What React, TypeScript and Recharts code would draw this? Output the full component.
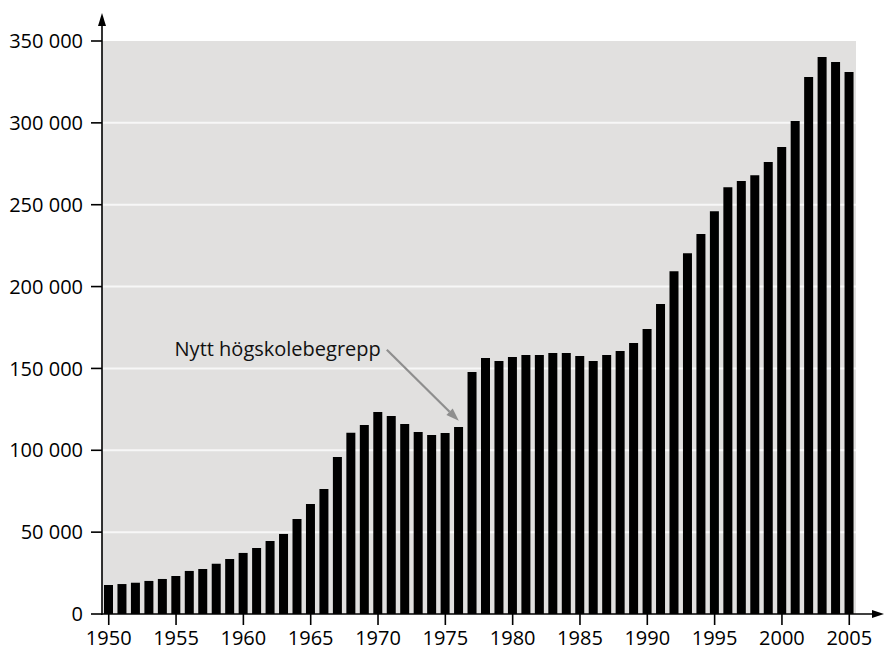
import { BarChart, Bar, XAxis, YAxis, CartesianGrid, ReferenceDot } from 'recharts';

const years = [
  '1950', '1951', '1952', '1953', '1954', '1955', '1956', '1957', '1958', '1959',
  '1960', '1961', '1962', '1963', '1964', '1965', '1966', '1967', '1968', '1969',
  '1970', '1971', '1972', '1973', '1974', '1975', '1976', '1977', '1978', '1979',
  '1980', '1981', '1982', '1983', '1984', '1985', '1986', '1987', '1988', '1989',
  '1990', '1991', '1992', '1993', '1994', '1995', '1996', '1997', '1998', '1999',
  '2000', '2001', '2002', '2003', '2004', '2005',
];

// registrerade studenter per år
const students = [
  17700, 18300, 19100, 20200, 21400, 23200, 26300, 27500, 30700, 33600,
  37300, 40300, 44600, 48900, 58000, 67200, 76400, 95900, 110700, 115400,
  123400, 120900, 116000, 111200, 109300, 110600, 114200, 147800, 156400, 154500,
  157000, 158200, 158200, 159400, 159400, 157600, 154500, 158200, 160600, 165500,
  174100, 189300, 209300, 220400, 232100, 246000, 260700, 264500, 268000, 276100,
  285200, 301200, 328000, 340200, 337100, 331100,
];

const yTicks = [0, 50000, 100000, 150000, 200000, 250000, 300000, 350000];

const annotationText = 'Nytt högskolebegrepp';
const annotationYear = '1976';
const annotationValue = 118000;

const data = years.map((year, i) => ({ year, value: students[i] }));

const W = 884;
const H = 649;
const Y_AXIS_W = 102;
const X_AXIS_H = 35;
const TOP = 41;
const RIGHT = 28;
const FONT = '"Open Sans", sans-serif';
const FONT_SIZE = 20;
const tickStyle = { fill: '#000', fontSize: FONT_SIZE, fontFamily: FONT };

const formatY = (v: number) => (v === 0 ? '0' : `${v / 1000} 000`);

function Annotation(props: any) {
  const { cx, cy } = props;
  if (cx == null || cy == null) return null;
  const sx = cx - 72;
  const sy = cy - 71;
  // pilspets längs linjens riktning
  const dx = cx - sx;
  const dy = cy - sy;
  const len = Math.sqrt(dx * dx + dy * dy);
  const ux = dx / len;
  const uy = dy / len;
  const hl = 13;
  const hw = 4.5;
  const bx = cx - ux * hl;
  const by = cy - uy * hl;
  return (
    <g>
      <line x1={sx} y1={sy} x2={bx} y2={by} stroke="#8e8e8e" strokeWidth={2.2} />
      <polygon
        points={`${cx},${cy} ${bx - uy * hw},${by + ux * hw} ${bx + uy * hw},${by - ux * hw}`}
        fill="#8e8e8e"
      />
      <text
        x={sx - 6}
        y={cy - 65}
        textAnchor="end"
        fontSize={FONT_SIZE}
        fontFamily={FONT}
        fill="#111"
      >
        {annotationText}
      </text>
    </g>
  );
}

export default function App() {
  const plotLeft = Y_AXIS_W;
  const plotBottom = H - X_AXIS_H;
  return (
    <div style={{ position: 'absolute', left: 0, top: 0, width: W, height: H, background: '#fff' }}>
      <BarChart
        width={W}
        height={H}
        data={data}
        margin={{ top: TOP, right: RIGHT, bottom: 0, left: 0 }}
        style={{ fontFamily: FONT }}
      >
        <CartesianGrid
          vertical={false}
          fill="#e1e0df"
          fillOpacity={1}
          stroke="#f7f7f7"
          strokeWidth={2}
          horizontalValues={yTicks.slice(1, -1)}
        />
        <XAxis
          dataKey="year"
          interval={4}
          height={X_AXIS_H}
          tickSize={11}
          tickMargin={6}
          axisLine={false}
          tickLine={{ stroke: '#000', strokeWidth: 1.6 }}
          tick={tickStyle}
        />
        <YAxis
          domain={[0, 350000]}
          ticks={yTicks}
          tickFormatter={formatY}
          width={Y_AXIS_W}
          tickSize={11}
          tickMargin={8}
          axisLine={false}
          tickLine={{ stroke: '#000', strokeWidth: 1.6 }}
          tick={tickStyle}
        />
        <Bar dataKey="value" fill="#000" barSize={9} isAnimationActive={false} />
        <ReferenceDot x={annotationYear} y={annotationValue} shape={Annotation} />
      </BarChart>
      <svg
        width={W}
        height={H}
        style={{ position: 'absolute', left: 0, top: 0, pointerEvents: 'none' }}
      >
        <line x1={plotLeft} y1={plotBottom + 0.8} x2={plotLeft} y2={24} stroke="#000" strokeWidth={1.6} />
        <polygon points={`${plotLeft - 4},${26} ${plotLeft},${13} ${plotLeft + 4},${26}`} fill="#000" />
        <line x1={plotLeft - 0.8} y1={plotBottom} x2={W - 11} y2={plotBottom} stroke="#000" strokeWidth={1.6} />
        <polygon
          points={`${W - 12},${plotBottom - 4} ${W},${plotBottom} ${W - 12},${plotBottom + 4}`}
          fill="#000"
        />
      </svg>
    </div>
  );
}
